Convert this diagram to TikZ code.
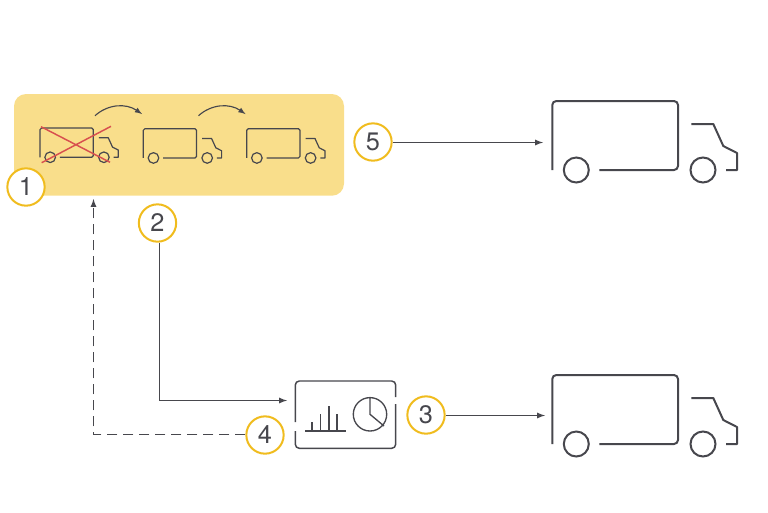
\documentclass[tikz,border=0pt]{standalone}
\usepackage{fontspec}
\setmainfont{TeX Gyre Heros}
\usepackage{color}
\usetikzlibrary{arrows,positioning}
\definecolor{panelyellow}{HTML}{F9DE8B}
\definecolor{ringyellow}{HTML}{F0BC1E}
\definecolor{inkgrey}{HTML}{47474D}
\definecolor{crossred}{HTML}{D8504F}

\begin{document}
\begin{tikzpicture}[x=.75pt,y=-.75pt,
		step label/.style={circle,draw=ringyellow,fill=white,line width=1.5pt,inner sep=0mm,minimum size=28pt,text=inkgrey,font=\fontsize{19}{22}\selectfont},
		flow/.style={draw=inkgrey,line width=1.05pt,-latex},
		hop/.style={draw=inkgrey,line width=.85pt,-latex},
		strike/.style={draw=crossred,line width=1.1pt},
		truck/.pic={
			\draw[inkgrey,line width=\pgfkeysvalueof{/tikz/truck width},rounded corners=#1]
				(0,69) -- (0,0) -- (125.7,0) -- (125.7,69) -- (47,69);
			\draw[inkgrey,line width=\pgfkeysvalueof{/tikz/truck width},line join=round]
				(139,23) -- (161,23) -- (171,45) -- (184.7,52) -- (184.7,69) -- (173.7,69);
			\draw[inkgrey,line width=\pgfkeysvalueof{/tikz/truck width}] (24,69) circle (12.5) (150.7,69) circle (12.5);
		},
		truck width/.initial=1.5pt]

	\useasboundingbox (0,0) rectangle (768,512);
	\fill[panelyellow,rounded corners=9pt] (14,94) rectangle (344,195.7);

	\pic[scale=.424,truck width=.9pt] (smallA) at (40,128) {truck=1.2pt};
	\pic[scale=.424,truck width=.9pt] (smallB) at (143.3,128.7) {truck=1.2pt};
	\pic[scale=.424,truck width=.9pt] (smallC) at (246.7,128.7) {truck=1.2pt};
	\draw[strike] (41,126.7) -- (110,162.3) (41.7,162.7) -- (111,126.3);

	\draw[hop] (95,115.7) .. controls (108,104) and (126,103) .. (142,114);
	\draw[hop] (198.5,115.7) .. controls (211.5,104) and (229.5,103) .. (245.5,114);

	\pic (bigA) at (552.3,101) {truck=3pt};
	\pic (bigB) at (552.3,375) {truck=3pt};

	%dashboard, the frame has two gaps
	\draw[inkgrey,line width=1.1pt,rounded corners=3pt]
		(395.7,397) -- (395.7,381) -- (295.3,381) -- (295.3,422);
	\draw[inkgrey,line width=1.1pt,rounded corners=3pt]
		(295.3,431) -- (295.3,448.3) -- (395.7,448.3) -- (395.7,404);
	\draw[inkgrey,line width=1pt] (305,431) -- (345.7,431)
		(312,431) -- (312,422.3) (320.7,431) -- (320.7,414.3)
		(329,431) -- (329,405.7) (337,431) -- (337,414.3);
	\draw[inkgrey,line width=1pt] (370,414.3) circle (16.7)
		(370,397.6) -- (370,414.3) -- (384,426);

	\node[step label] (one) at (26,187) {1};
	\node[step label] (two) at (157.5,223) {2};
	\node[step label] (three) at (426,415) {3};
	\node[step label] (four) at (265,435) {4};
	\node[step label] (five) at (373,142) {5};

	\coordinate (fivein) at (543,142.5);
	\coordinate (threein) at (545,415.5);
	\coordinate (dashin) at (287,400.5);
	\coordinate (bendtwo) at (159.5,400.5);
	\coordinate (bendfour) at (93.5,434.5);
	\coordinate (panelin) at (93.5,199);

	\draw[flow] (five.east |- fivein) -- (fivein);
	\draw[flow] (three.east |- threein) -- (threein);
	\draw[flow] (two.south -| bendtwo) -- (bendtwo) -- (dashin);
	\draw[flow,dash pattern=on 7.5pt off 4.5pt] (four.west |- bendfour) -- (bendfour) -- (panelin);
\end{tikzpicture}
\end{document}
